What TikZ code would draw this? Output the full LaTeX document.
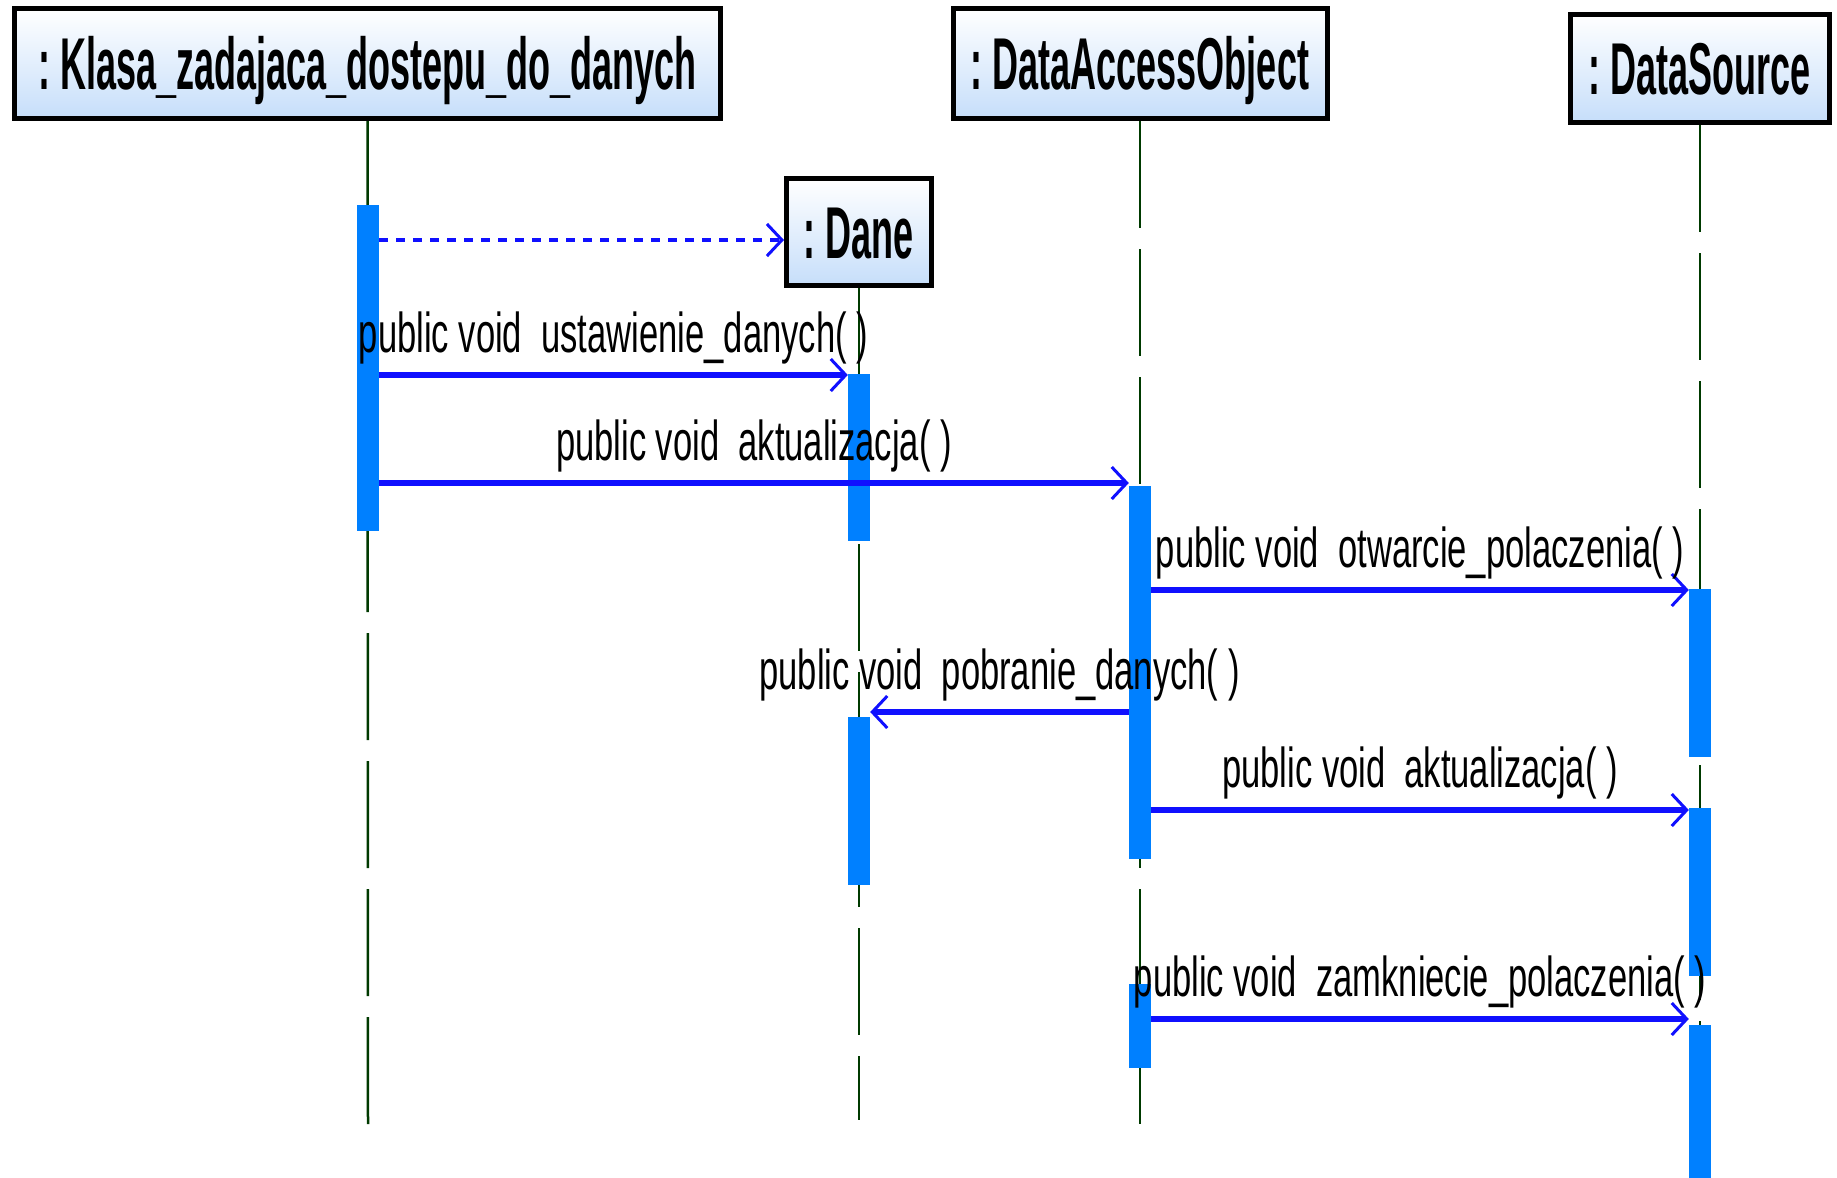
\documentclass[tikz,border=0pt]{standalone}
\usepackage{fontspec}
\setmainfont{Liberation Sans}
\usepackage{graphicx}
\usetikzlibrary{arrows.meta}
\definecolor{actblue}{RGB}{0,128,255}
\definecolor{msgblue}{RGB}{16,16,255}
\definecolor{lifegreen}{RGB}{0,58,0}
\definecolor{boxblue}{RGB}{198,222,250}
% condensed header and message texts
\newcommand\hdrtxt[1]{\scalebox{0.5}[1.02]{\fontsize{72}{72}\selectfont\bfseries #1}}
\newcommand\lbltxt[1]{\scalebox{0.64}[1.04]{\fontsize{54}{54}\selectfont #1}}

\begin{document}
\begin{tikzpicture}[x=1pt,y=-1pt,
  objbox/.style={draw=black, line width=5pt, top color=white, bottom color=boxblue,
    inner sep=0pt, text height=52pt, text depth=0pt},
  actbar/.style={fill=actblue, draw=none, minimum width=22pt, inner sep=0pt},
  lifeline/.style={draw=lifegreen, line width=2.5pt, dash pattern=on 107pt off 21pt},
  msgline/.style={draw=msgblue, line width=5.5pt,
    -{Straight Barb[length=15pt,width=32pt,line width=3pt]}},
  createline/.style={msgline, line width=4.5pt, dash pattern=on 9pt off 8pt},
  msglabel/.style={anchor=base, inner sep=0pt, yshift=23pt}]

\useasboundingbox[fill=white] (0,0) rectangle (1837,1178);

% object heads
\node[objbox, minimum width=706pt, minimum height=110pt] (kbox) at (367.5,63.5)
  {\hdrtxt{:\ Klasa\_zadajaca\_dostepu\_do\_danych}};
\node[objbox, minimum width=374pt, minimum height=110pt] (obox) at (1140,63.5)
  {\hdrtxt{:\ DataAccessObject}};
\node[objbox, minimum width=259pt, minimum height=108pt] (sbox) at (1700,68.5)
  {\hdrtxt{:\ DataSource}};
\node[objbox, minimum width=145pt, minimum height=107pt] (dbox) at (859,232)
  {\hdrtxt{:\ Dane}};

% lifeline ends
\coordinate (kend) at (368,1125);
\coordinate (dend) at (859,1120);
\coordinate (oend) at (1140,1124);
\coordinate (send) at (1700,1178);

\draw[lifeline] (kbox.south) -- (kend);
\draw[lifeline] (dbox.south) -- (dend);
\draw[lifeline] (obox.south) -- (oend);
\draw[lifeline] (sbox.south) -- (send);

% activation bars
\node[actbar, minimum height=326pt] (ak)  at (368,368) {};
\node[actbar, minimum height=167pt] (ad1) at (859,457.5) {};
\node[actbar, minimum height=168pt] (ad2) at (859,801) {};
\node[actbar, minimum height=373pt] (ao1) at (1140,672.5) {};
\node[actbar, minimum height=84pt]  (ao2) at (1140,1026) {};
\node[actbar, minimum height=168pt] (as1) at (1700,673) {};
\node[actbar, minimum height=168pt] (as2) at (1700,892) {};
\node[actbar, minimum height=153pt] (as3) at (1700,1101.5) {};

% message rows
\coordinate (r0) at (0,240);
\coordinate (r1) at (0,375);
\coordinate (r2) at (0,483);
\coordinate (r3) at (0,590);
\coordinate (r4) at (0,712);
\coordinate (r5) at (0,810);
\coordinate (r6) at (0,1019);

\draw[createline] (ak.east |- r0) -- (dbox.west |- r0);
\draw[msgline] (ak.east |- r1) -- (ad1.west |- r1)
  node[midway, msglabel] {\lbltxt{public void\ \ ustawienie\_danych(\ )}};
\draw[msgline] (ak.east |- r2) -- (ao1.west |- r2)
  node[midway, msglabel] {\lbltxt{public void\ \ aktualizacja(\ )}};
\draw[msgline] (ao1.east |- r3) -- (as1.west |- r3)
  node[midway, msglabel] {\lbltxt{public void\ \ otwarcie\_polaczenia(\ )}};
\draw[msgline] (ao1.west |- r4) -- (ad2.east |- r4)
  node[midway, msglabel] {\lbltxt{public void\ \ pobranie\_danych(\ )}};
\draw[msgline] (ao1.east |- r5) -- (as2.west |- r5)
  node[midway, msglabel] {\lbltxt{public void\ \ aktualizacja(\ )}};
\draw[msgline] (ao2.east |- r6) -- (as3.west |- r6)
  node[midway, msglabel] {\lbltxt{public void\ \ zamkniecie\_polaczenia(\ )}};

\end{tikzpicture}
\end{document}
